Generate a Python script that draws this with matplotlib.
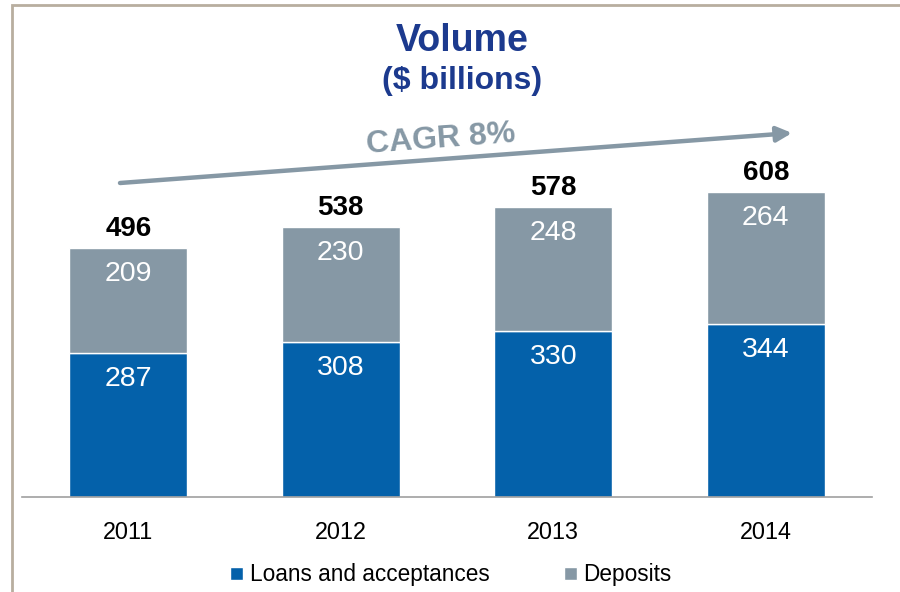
import matplotlib.pyplot as plt
from matplotlib.patches import Rectangle
import numpy as np

plt.rcParams['font.family'] = ['Liberation Sans', 'DejaVu Sans']

# volume data, $ billions
years = ['2011', '2012', '2013', '2014']
loans = [287, 308, 330, 344]
deposits = [209, 230, 248, 264]
totals = [496, 538, 578, 608]

BLUE = '#0461aa'
GREY = '#8698a5'
NAVY = '#1c3a8e'

fig = plt.figure(figsize=(9, 5.92), dpi=100)
ax = fig.add_axes([22 / 900, 95 / 592, 850 / 900, 487 / 592])

x = np.arange(len(years))
w = 0.556
ax.bar(x, loans, w, color=BLUE, edgecolor='white', linewidth=1,
       label='Loans and acceptances')
ax.bar(x, deposits, w, bottom=loans, color=GREY, edgecolor='white',
       linewidth=1, label='Deposits')

for i in range(len(years)):
    ax.text(x[i], loans[i] - 52, str(loans[i]), ha='center', va='center',
            color='white', fontsize=20.5)
    ax.text(x[i], loans[i] + deposits[i] - 52, str(deposits[i]),
            ha='center', va='center', color='white', fontsize=20.5)
    ax.text(x[i], totals[i] + 12, str(totals[i]), ha='center', va='bottom',
            color='black', fontsize=20, fontweight='bold')

ax.set_xlim(-0.5, 3.5)
ax.set_ylim(0, 970)
for s in ['top', 'right', 'left']:
    ax.spines[s].set_visible(False)
ax.spines['bottom'].set_color('#a0a0a0')
ax.spines['bottom'].set_linewidth(1.2)
ax.set_yticks([])
ax.set_xticks(x)
ax.set_xticklabels(years, fontsize=16.8)
ax.tick_params(axis='x', length=0, pad=17)

# outer frame
fig.patches.append(Rectangle((12 / 900, -0.1), 1.2, (592 - 5) / 592 + 0.1,
                             transform=fig.transFigure, fill=False,
                             edgecolor='#b8ae9f', linewidth=2))

fig.text(462 / 900, 1 - 41 / 592, 'Volume', ha='center', va='center',
         color=NAVY, fontsize=27, fontweight='bold')
fig.text(462 / 900, 1 - 81 / 592, '($ billions)', ha='center', va='center',
         color=NAVY, fontsize=23, fontweight='bold')

# growth arrow
ax.annotate('', xy=(792 / 900, 1 - 133 / 592), xytext=(120 / 900, 1 - 183 / 592),
            xycoords='figure fraction', textcoords='figure fraction',
            arrowprops=dict(arrowstyle='-|>,head_length=0.9,head_width=0.45',
                        color=GREY, lw=3.2, shrinkA=0, shrinkB=0))
fig.text(441 / 900, 1 - 139 / 592, 'CAGR 8%', ha='center', va='center',
         color=GREY, fontsize=23, fontweight='bold', rotation=4.3)

fig.legend(loc='center', bbox_to_anchor=(451 / 900, 1 - 575 / 592), ncol=2,
           frameon=False, fontsize=16.3, handlelength=0.55, handleheight=0.55,
           handletextpad=0.3, columnspacing=3.3)

fig.savefig('out.png', dpi=100)
